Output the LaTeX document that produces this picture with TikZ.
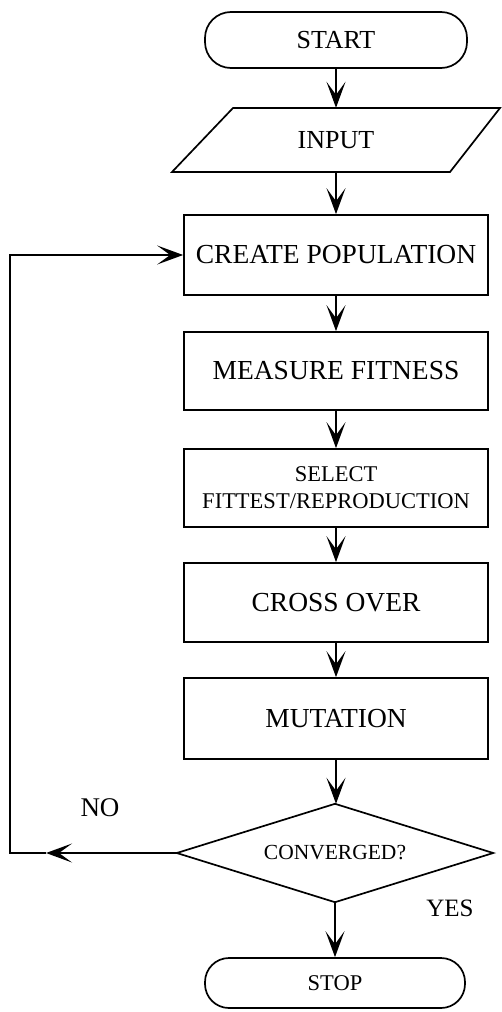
\documentclass[tikz,border=0pt]{standalone}
\usepackage{fontspec}
\setmainfont{Liberation Serif}
\usetikzlibrary{shapes.geometric,arrows.meta,calc}
\tikzset{
  box/.style={draw, line width=1.7pt, rectangle, minimum width=304pt, minimum height=79pt, inner sep=0pt, align=center},
  term/.style={draw, line width=1.7pt, rectangle, rounded corners=26pt, inner sep=0pt},
  big/.style={font=\fontsize{27.5}{30}\selectfont},
  arr/.style={line width=1.7pt, -{Stealth[length=26pt, width=19pt, inset=13pt]}},
  conn/.style={line width=1.7pt},
  lbl/.style={inner sep=0pt}
}
\begin{document}
\begin{tikzpicture}[x=1pt,y=-1pt]
\useasboundingbox (0,0) rectangle (502,1012);
\node[term, minimum width=262pt, minimum height=56pt, font=\fontsize{26}{28}\selectfont] (start) at (336,40) {START};
\node[inner sep=0pt, minimum width=267pt, minimum height=64pt, font=\fontsize{26}{28}\selectfont] (input) at (336,140) {INPUT};
\draw[conn] (233,108) -- (500,108) -- (450,172) -- (172,172) -- cycle;
\node[box, big, minimum height=80pt] (create) at (336,255) {CREATE POPULATION};
\node[box, big, minimum height=78pt] (measure) at (336,371) {MEASURE FITNESS};
\node[box, minimum height=78pt, font=\fontsize{22.5}{27}\selectfont] (select) at (336,488) {SELECT\\FITTEST/REPRODUCTION};
\node[box, big] (cross) at (336,602.5) {CROSS OVER};
\node[box, big, minimum height=81pt] (mutation) at (336,718.5) {MUTATION};
\node[inner sep=0pt, minimum width=316pt, minimum height=98pt, font=\fontsize{21.5}{24}\selectfont] (conv) at (335,853) {CONVERGED?};
\draw[conn] (conv.north) -- (conv.east) -- (conv.south) -- (conv.west) -- cycle;
\node[term, minimum width=260pt, minimum height=50pt, rounded corners=24pt, font=\fontsize{22.5}{24}\selectfont] (stop) at (335,983) {STOP};
\node[lbl, font=\fontsize{27}{30}\selectfont] (no) at (100,808) {NO};
\node[lbl, font=\fontsize{25}{28}\selectfont] (yes) at (450,908) {YES};
\coordinate (m) at (46,853);
\coordinate (c1) at (10,853);
\draw[arr] (start.south) -- (start.south |- input.north);
\draw[arr] (input.south) -- (create.north);
\draw[arr] (create) -- (measure);
\draw[arr] (measure) -- (select);
\draw[arr] (select) -- (cross);
\draw[arr] (cross) -- (mutation);
\draw[arr] (mutation.south) -- (mutation.south |- conv.north);
\draw[arr] (conv.south) -- (conv.south |- stop.north);
\draw[arr] (conv.west) -- (m);
\draw[arr] (m) -- (c1) |- (create.west);
\end{tikzpicture}
\end{document}
